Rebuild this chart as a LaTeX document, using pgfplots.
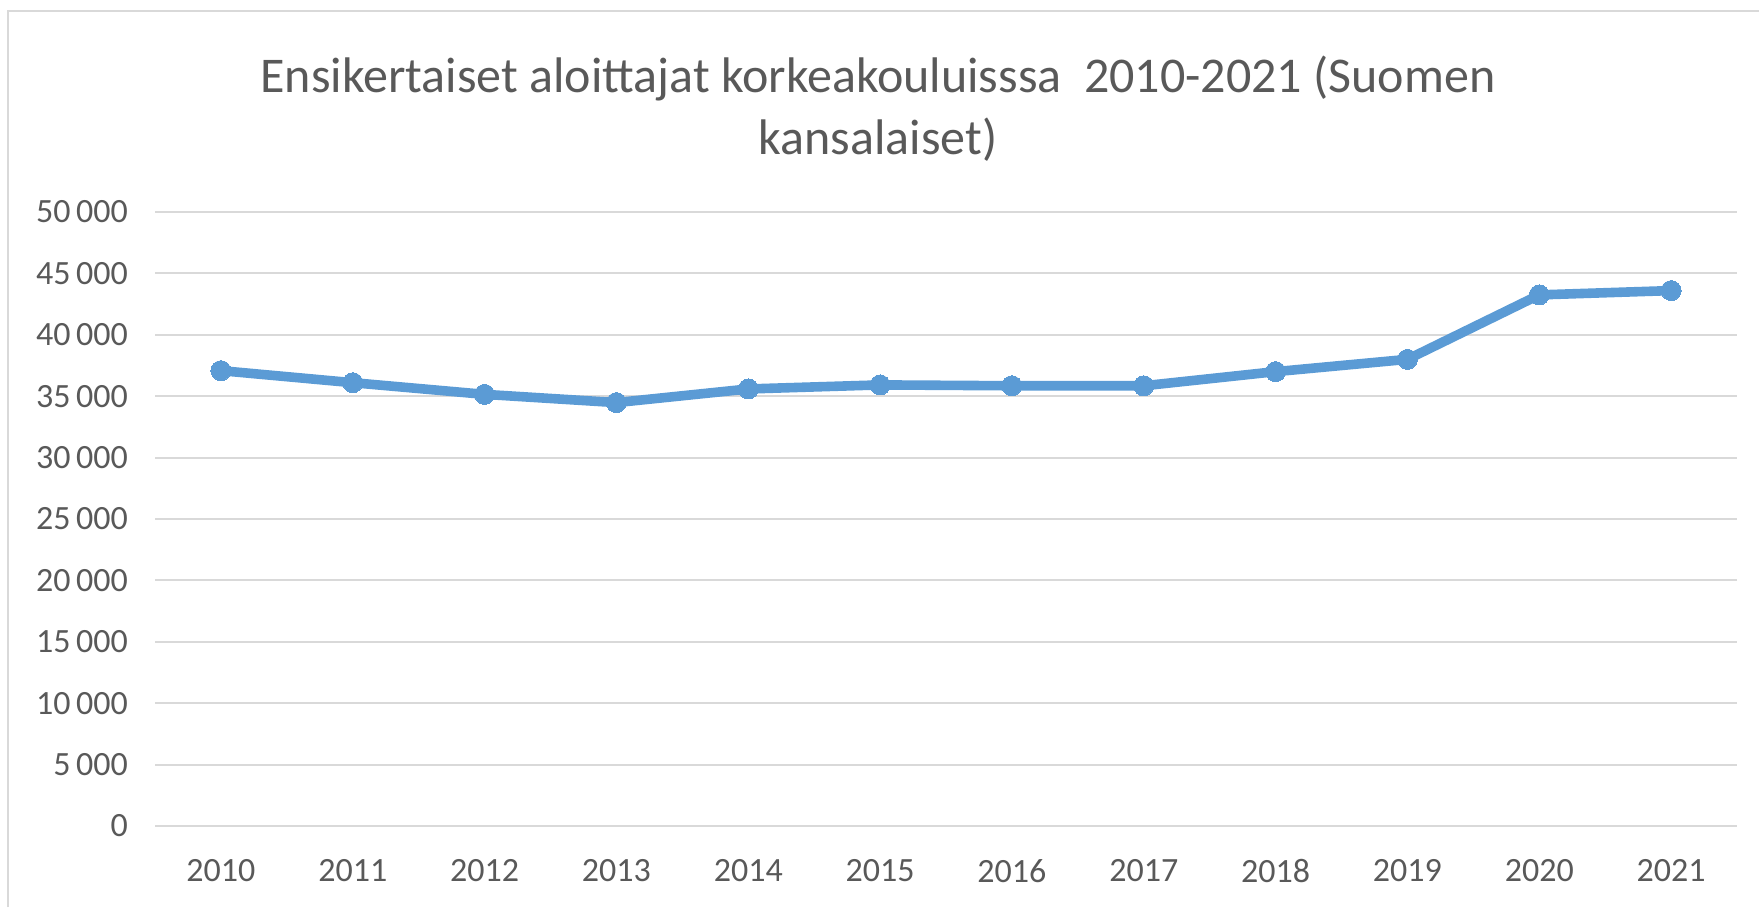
\documentclass[border=0pt]{standalone}
\usepackage{fontspec}
\setmainfont{Carlito}
\usepackage{pgfplots}
\pgfplotsset{compat=1.18}
\definecolor{exblue}{HTML}{5B9BD5}
\definecolor{gridc}{HTML}{D9D9D9}
\definecolor{txt}{HTML}{595959}
\begin{document}
\begin{tikzpicture}
\path[use as bounding box] (0,0) rectangle (879.5pt,453.5pt);
\draw[gridc, line width=1.2pt] (4pt,0) -- (4pt,448pt) -- (879.5pt,448pt);
\node[align=center, font=\fontsize{25}{31}\selectfont, text=txt] at (439pt,399pt)
  {Ensikertaiset aloittajat korkeakouluisssa\ \ 2010-2021 (Suomen\\kansalaiset)};
\begin{axis}[
  at={(77.5pt,40.5pt)}, anchor=south west,
  scale only axis, width=791pt, height=307pt,
  xmin=-0.5, xmax=11.5, ymin=0, ymax=50000,
  xtick={0,...,11},
  xticklabels={2010,2011,2012,2013,2014,2015,2016,2017,2018,2019,2020,2021},
  ytick={0,5000,...,50000},
  ymajorgrids, grid style={gridc, line width=1pt},
  axis line style={draw=none}, tick style={draw=none},
  ticklabel style={font=\fontsize{17}{20}\selectfont, text=txt},
  yticklabel style={xshift=-10pt},
  xticklabel style={yshift=-13pt},
  /pgf/number format/assume math mode=true,
  /pgf/number format/1000 sep={\,},
  scaled y ticks=false,
  clip=false,
]
\addplot[exblue, line width=4.8pt, mark=*, mark size=5pt, mark options={fill=exblue, draw=exblue, line width=0pt}]
  coordinates {(0,37080) (1,36100) (2,35150) (3,34480) (4,35590) (5,35920) (6,35850) (7,35850) (8,37000) (9,38000) (10,43250) (11,43600)};
\end{axis}
\end{tikzpicture}
\end{document}
